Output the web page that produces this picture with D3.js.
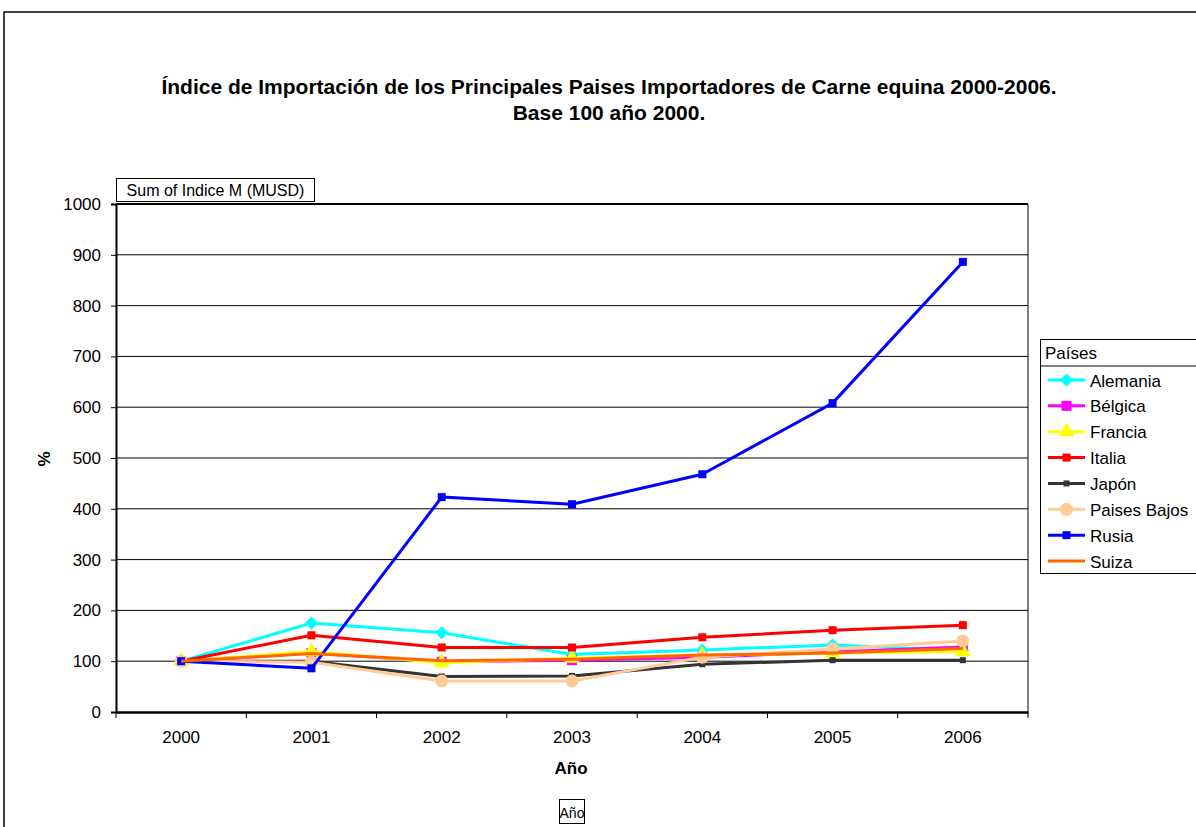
<!DOCTYPE html>
<html><head><meta charset="utf-8">
<script src="https://cdn.jsdelivr.net/npm/d3@7"></script>
<style>body{margin:0;background:#fff}svg{display:block;font-family:"Liberation Sans",Arial,sans-serif}</style>
</head><body><svg id="c" width="1196" height="827"></svg>
<script>
const years = ["2000","2001","2002","2003","2004","2005","2006"];
const yTicks = [0,100,200,300,400,500,600,700,800,900,1000];
const seriesNames = ["Alemania","Bélgica","Francia","Italia","Japón","Paises Bajos","Rusia","Suiza"];
const alemania = [100,175,156,113,122,132,121];
const belgica = [100,116,99,102,108,118,128];
const francia = [100,119,97,106,112,116,119];
const italia = [100,151,127,127,147,161,171];
const japon = [100,100,70,71,94,102,102];
const paisesBajos = [100,98,61,61,108,124,140];
const rusia = [100,86,423,409,468,608,886];
const suiza = [100,115,101,104,112,116,125];
const seriesValues = [alemania,belgica,francia,italia,japon,paisesBajos,rusia,suiza];
const colors = ["#00FFFF","#FF00FF","#FFFF00","#FF0000","#333333","#FFCC99","#0000FF","#FF6600"];
const markers = ["diamond","bigsquare","triangle","square","smallsquare","circle","square","none"];

const FONT = "Liberation Sans, Arial, sans-serif";
const svg = d3.select("#c");
const L = 116, R = 1028, T = 204, B = 712;
const x = d3.scaleBand().domain(years).range([L, R]);
const y = d3.scaleLinear().domain([0, 1000]).range([B, T]);

// outer border
svg.append("rect").attr("x",4).attr("y",12).attr("width",1200).attr("height",830)
  .attr("fill","none").attr("stroke","#000").attr("stroke-width",1.5);

// title
const title = svg.append("text").attr("text-anchor","middle")
  .attr("font-weight","bold").attr("font-size",21).attr("fill","#000");
title.append("tspan").attr("x",609).attr("y",94).text("Índice de Importación de los Principales Paises Importadores de Carne equina 2000-2006.");
title.append("tspan").attr("x",609).attr("y",120).text("Base 100 año 2000.");

// gridlines
svg.append("g").selectAll("line").data(yTicks.filter(d=>d>0)).join("line")
  .attr("x1",L).attr("x2",R).attr("y1",d=>y(d)).attr("y2",d=>y(d))
  .attr("stroke","#000").attr("stroke-width",1);
svg.append("line").attr("x1",R).attr("x2",R).attr("y1",T).attr("y2",B).attr("stroke","#000").attr("stroke-width",1);
svg.append("line").attr("x1",L).attr("x2",R).attr("y1",T).attr("y2",T).attr("stroke","#000").attr("stroke-width",2);

// y axis
const yAxis = svg.append("g").attr("transform",`translate(${L},0)`)
  .call(d3.axisLeft(y).tickValues(yTicks).tickFormat(d3.format("d")).tickSize(5).tickPadding(10));
yAxis.select(".domain").attr("stroke-width",2);
yAxis.selectAll("text").attr("font-size",17).attr("font-family",FONT).attr("fill","#000");

// x axis
const xAxis = svg.append("g").attr("transform",`translate(0,${B})`)
  .call(d3.axisBottom(x).tickSize(0).tickPadding(19));
xAxis.select(".domain").attr("stroke-width",2.5);
xAxis.selectAll("text").attr("font-size",17).attr("font-family",FONT).attr("fill","#000");
const bounds = years.map(d=>x(d)).concat([R]);
svg.append("g").selectAll("line").data(bounds).join("line")
  .attr("x1",d=>d).attr("x2",d=>d).attr("y1",B).attr("y2",B+6).attr("stroke","#000");

// axis titles
svg.append("text").attr("x",571).attr("y",774).attr("text-anchor","middle")
  .attr("font-weight","bold").attr("font-size",17).text("Año");
svg.append("text").attr("transform","translate(50,459) rotate(-90)").attr("text-anchor","middle")
  .attr("font-weight","bold").attr("font-size",17).text("%");

// field buttons
function fieldBox(tx, ty, txt, w, h, fs){
  svg.append("rect").attr("x",tx).attr("y",ty).attr("width",w).attr("height",h)
    .attr("fill","#fff").attr("stroke","#000").attr("stroke-width",1);
  svg.append("text").attr("x",tx+w/2).attr("y",ty+h-6).attr("text-anchor","middle").attr("font-size",fs).text(txt);
}
fieldBox(116.5,178.5,"Sum of Indice M (MUSD)",198,23,16);
fieldBox(559.5,799.5,"Año",25,24,14);

// series
const line = d3.line().x((d,i)=>x(years[i])+x.bandwidth()/2).y(d=>y(d));
function drawMarker(g, type, color, cx, cy){
  if(type==="diamond"){
    g.append("path").attr("d",d3.symbol(d3.symbolDiamond2,110)()).attr("transform",`translate(${cx},${cy})`).attr("fill",color);
  } else if(type==="bigsquare"){
    g.append("rect").attr("x",cx-5).attr("y",cy-5).attr("width",10).attr("height",10).attr("fill",color);
  } else if(type==="square"){
    g.append("rect").attr("x",cx-4).attr("y",cy-4).attr("width",8).attr("height",8).attr("fill",color);
  } else if(type==="smallsquare"){
    g.append("rect").attr("x",cx-3).attr("y",cy-3).attr("width",6).attr("height",6).attr("fill",color);
  } else if(type==="triangle"){
    g.append("path").attr("d",d3.symbol(d3.symbolTriangle,110)()).attr("transform",`translate(${cx},${cy})`).attr("fill",color);
  } else if(type==="circle"){
    g.append("circle").attr("cx",cx).attr("cy",cy).attr("r",6.5).attr("fill",color);
  }
}
seriesValues.forEach((vals, si)=>{
  const g = svg.append("g");
  g.append("path").datum(vals).attr("d",line).attr("fill","none")
    .attr("stroke",colors[si]).attr("stroke-width",3).attr("stroke-linejoin","round");
  vals.forEach((v,i)=>drawMarker(g, markers[si], colors[si], x(years[i])+x.bandwidth()/2, y(v)));
});

// legend
const lg = svg.append("g");
lg.append("rect").attr("x",1040.5).attr("y",339.5).attr("width",170).attr("height",234)
  .attr("fill","#fff").attr("stroke","#000").attr("stroke-width",1);
lg.append("line").attr("x1",1040).attr("x2",1196).attr("y1",366).attr("y2",366).attr("stroke","#000");
lg.append("text").attr("x",1045).attr("y",359).attr("font-size",17).text("Países");
const ly = d3.scalePoint().domain(seriesNames).range([380,561]);
seriesNames.forEach((n,i)=>{
  const yy = ly(n);
  lg.append("line").attr("x1",1048).attr("x2",1085).attr("y1",yy).attr("y2",yy)
    .attr("stroke",colors[i]).attr("stroke-width",3);
  drawMarker(lg, markers[i], colors[i], 1066.5, yy);
  lg.append("text").attr("x",1090).attr("y",yy+6.5).attr("font-size",17).text(n);
});
</script></body></html>
